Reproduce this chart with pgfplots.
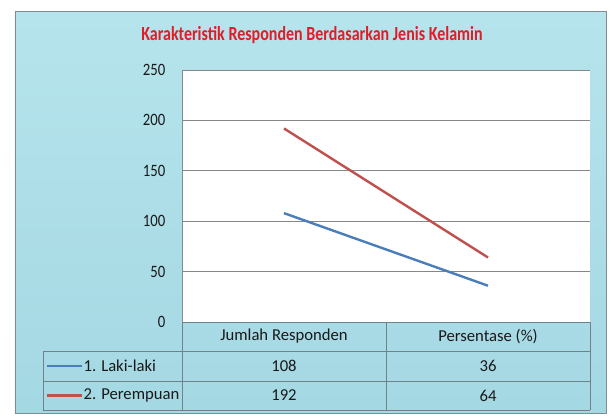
\documentclass[border=0pt]{standalone}
\usepackage{pgfplots}
\pgfplotsset{compat=1.18}
\usepackage{fontspec}
\setmainfont{Carlito}
\newfontfamily\titlefont[FakeStretch=0.8]{Carlito}
\newfontfamily\tickfont[FakeStretch=0.85]{Carlito}

\definecolor{water}{RGB}{182,228,236}
\definecolor{waterdark}{RGB}{164,216,227}
\definecolor{framegray}{RGB}{128,140,145}
\definecolor{gridgray}{RGB}{135,135,135}
\definecolor{tablegray}{RGB}{110,130,136}
\definecolor{lakiblue}{RGB}{74,126,187}
\definecolor{perred}{RGB}{192,80,77}
\definecolor{titlered}{RGB}{226,28,38}
\definecolor{txt}{RGB}{25,25,25}

\begin{document}
\begin{tikzpicture}
% px grid of the reference, origin at the lower left of the plot area
\begin{scope}[x=0.75pt,y=0.75pt]
  \fill[white] (-182,-93) rectangle (427,322);
  \shade[top color=water,bottom color=waterdark,draw=framegray,line width=0.6pt]
    (-167,-91) rectangle (424,311);
  \node[titlered,font=\titlefont\bfseries\fontsize{15}{17}\selectfont]
    at (130,287) {Karakteristik Responden Berdasarkan Jenis Kelamin};
\end{scope}

\begin{axis}[
    scale only axis,
    width=306pt,
    height=189pt,
    xmin=0, xmax=2,
    ymin=0, ymax=250,
    ytick={0,50,...,250},
    xtick=\empty,
    axis x line=none,
    axis y line*=left,
    y axis line style={draw=framegray,-},
    ytick style={draw=none},
    ymajorgrids,
    grid style={gridgray,line width=0.6pt},
    axis background/.style={fill=white},
    /pgf/number format/assume math mode=true,
    yticklabel style={font=\tickfont\fontsize{13}{15}\selectfont,text=txt,xshift=-9pt},
    clip=false,
]
\addplot[lakiblue,line width=1.8pt] coordinates {(0.5,108) (1.5,36)};
\addplot[perred,line width=1.8pt] coordinates {(0.5,192) (1.5,64)};
\end{axis}

\begin{scope}[x=0.75pt,y=0.75pt,font=\fontsize{12.5}{15}\selectfont,text=txt]
  % data table under the plot
  \draw[tablegray,line width=0.6pt] (0,0) -- (408,0);
  \draw[tablegray,line width=0.6pt] (-139,-29) -- (408,-29);
  \draw[tablegray,line width=0.6pt] (-139,-59) -- (408,-59);
  \draw[tablegray,line width=0.6pt] (-139,-88) -- (408,-88);
  \draw[tablegray,line width=0.6pt] (-139,-29) -- (-139,-88);
  \draw[tablegray,line width=0.6pt] (0,0) -- (0,-88);
  \draw[tablegray,line width=0.6pt] (204,0) -- (204,-88);
  \draw[tablegray,line width=0.6pt] (408,0) -- (408,-88);
  \node at (102,-14.5) {Jumlah Responden};
  \node at (306,-14.5) {Persentase (\%)};
  \draw[lakiblue,line width=1.8pt] (-135,-44) -- (-100,-44);
  \node[anchor=west,inner sep=1pt] at (-100,-44) {1. Laki-laki};
  \draw[perred,line width=1.8pt] (-135,-73.5) -- (-100,-73.5);
  \node[anchor=west,inner sep=1pt] at (-100,-73.5) {2. Perempuan};
  \node at (102,-44) {108};
  \node at (306,-44) {36};
  \node at (102,-73.5) {192};
  \node at (306,-73.5) {64};
\end{scope}
\end{tikzpicture}
\end{document}
